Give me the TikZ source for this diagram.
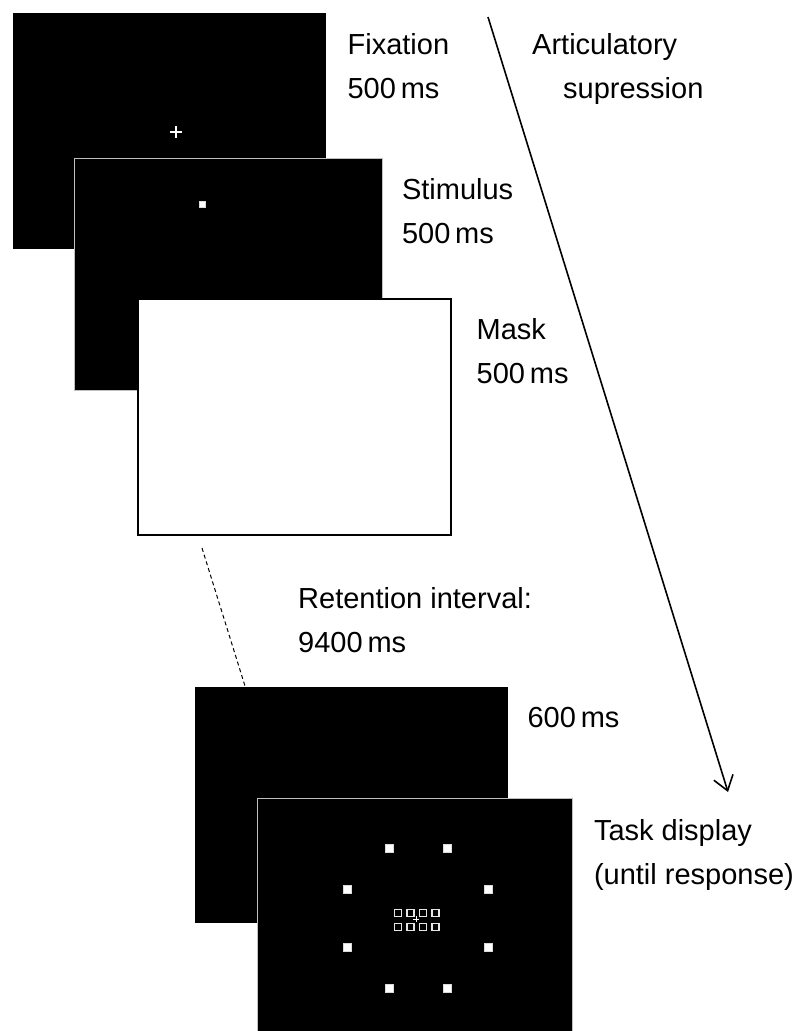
\documentclass[tikz,border=0pt]{standalone}
\usepackage{fontspec}
\setmainfont{Liberation Sans}
\usetikzlibrary{positioning, arrows.meta}
\tikzset{
    screen/.style={
        fill=black,
        minimum width=313pt,
        minimum height=236pt,
        inner sep=0pt,
        anchor=north west,
    },
    framed/.style={
        screen,
        draw=white!75!black,
        line width=0.8pt,
    },
    blank/.style={
        screen,
        fill=white,
        draw=black,
        line width=1.5pt,
    },
    lbl/.style={
        anchor=north west,
        inner sep=0pt,
        align=left,
        font=\fontsize{29}{44}\selectfont,
    },
    probe/.style={
        fill=white,
        draw=white!85!black,
        minimum size=8pt,
        inner sep=0pt,
    },
}

\begin{document}
\begin{tikzpicture}[x=1pt, y=-1pt]
   \clip (0,0) rectangle (802,1031);
   % screens
   \node[screen] (fix) at (13,13) {};
   \draw[white, line width=1.5pt] (170,132) -- (182,132) (176,126) -- (176,138);
   \node[framed, minimum width=308pt, minimum height=232pt] (stim) at (74,158) {};
   \node[probe, minimum size=6pt] (target) at (202,204) {};
   \node[blank] (mask) at (137,298) {};
   \node[screen] (delay) at (195,687) {};
   \node[framed, minimum width=315pt] (task) at (257,798) {};
   \coordinate (ring) at ([shift={(3,2)}]task.center);
   \foreach \a in {22.5,67.5,...,337.5}
      \node[probe] at ([shift={(\a:76)}]ring) {};
   \foreach \i in {0,...,3}
      \foreach \j in {0,1}
         \draw[white!90!black, line width=1.4pt] (394.5+12.5*\i,909.5+14*\j) rectangle +(7,7);
   \draw[white, line width=0.8pt] (413,919) -- (419,919) (416,916) -- (416,922);
   % labels
   \node[lbl] (fixlbl) at ([shift={(21,20)}]fix.north east) {Fixation\\500\,ms};
   \node[lbl] (stimlbl) at ([shift={(19,20)}]stim.north east) {Stimulus\\500\,ms};
   \node[lbl] (masklbl) at ([shift={(25,20)}]mask.north east) {Mask\\500\,ms};
   \node[lbl] (retlbl) at (298,587) {Retention interval:\\9400\,ms};
   \node[lbl] (delaylbl) at ([shift={(19,20)}]delay.north east) {600\,ms};
   \node[lbl] (tasklbl) at ([shift={(21,21)}]task.north east) {Task display\\(until response)};
   \node[lbl] (artlbl) at (532,33) {Articulatory\\\hspace*{31pt}supression};
   % connectors
   \coordinate (gapa) at (202,548);
   \coordinate (gapb) at (245,686);
   \draw[line width=1pt, dash pattern=on 4pt off 3pt] (gapa) -- (gapb);
   \coordinate (tstart) at (488,17);
   \coordinate (tend) at (728,792);
   \draw[-{Straight Barb[length=14pt,width=20pt]}, line width=1.6pt] (tstart) -- (tend);
\end{tikzpicture}
\end{document}
